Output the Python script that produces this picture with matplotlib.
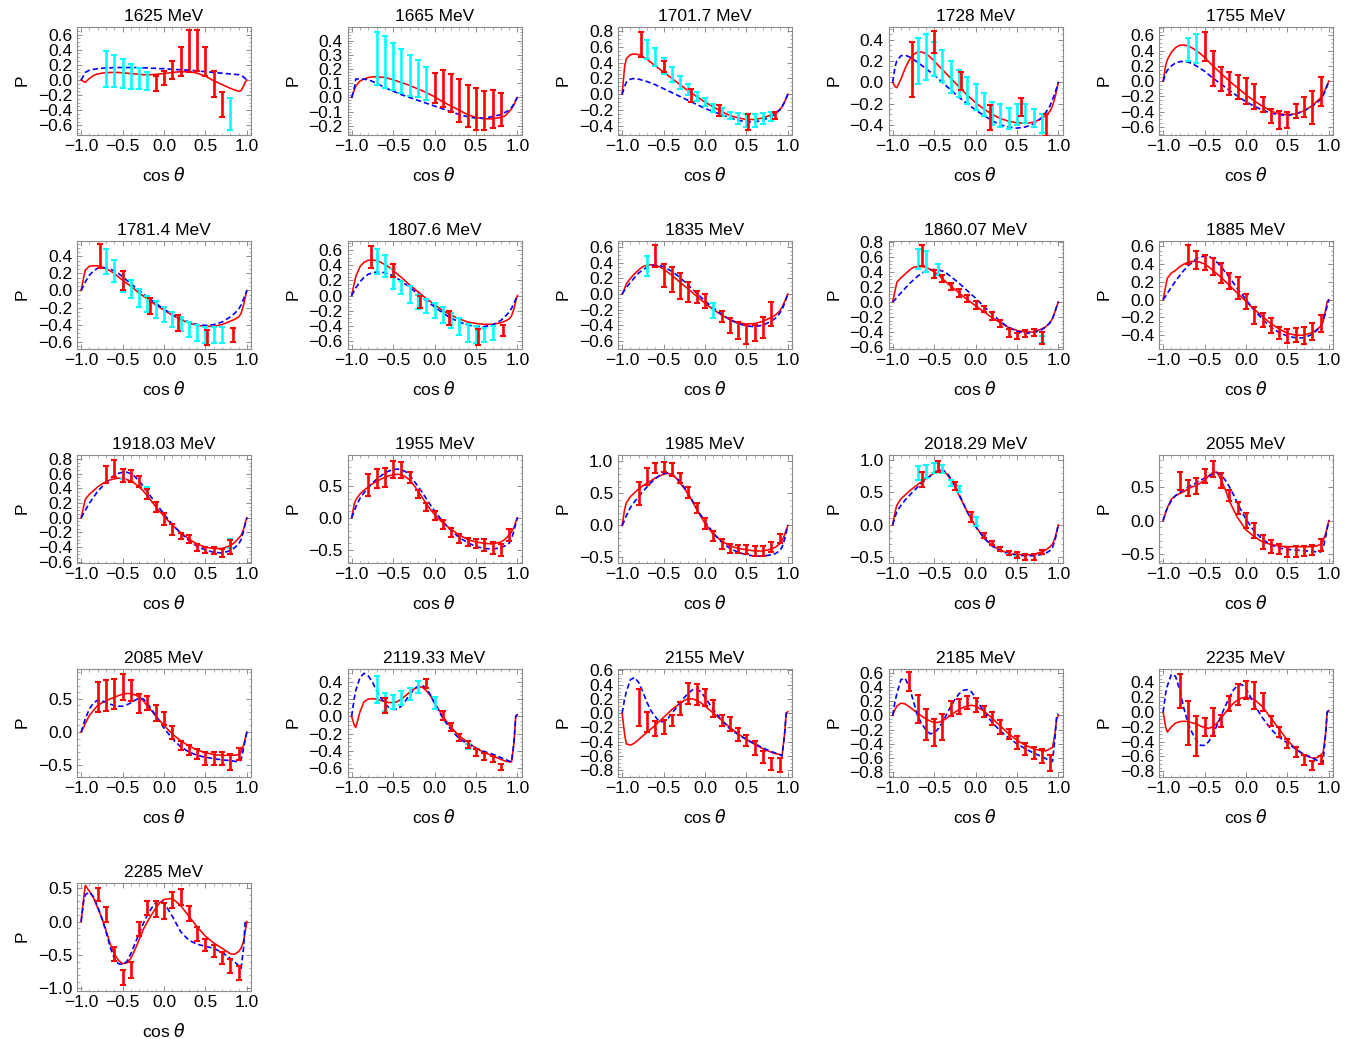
import matplotlib
matplotlib.use('Agg')
import matplotlib.pyplot as plt
from matplotlib.ticker import MultipleLocator, FuncFormatter

plt.rcParams['font.family'] = ['Liberation Sans', 'DejaVu Sans']
plt.rcParams['mathtext.fontset'] = 'dejavusans'

ENERGIES = ['1625', '1665', '1701.7', '1728', '1755',
            '1781.4', '1807.6', '1835', '1860.07', '1885',
            '1918.03', '1955', '1985', '2018.29', '2055',
            '2085', '2119.33', '2155', '2185', '2235', '2285']

XC = [-1.0, -0.97, -0.95, -0.9, -0.85, -0.8, -0.75, -0.7, -0.65, -0.6, -0.55, -0.5,
      -0.45, -0.4, -0.35, -0.3, -0.25, -0.2, -0.15, -0.1, -0.05, 0.0, 0.1, 0.2,
      0.3, 0.4, 0.5, 0.6, 0.7, 0.8, 0.85, 0.9, 0.93, 0.96, 0.98, 1.0]

RED_CURVES = [
    [0.0, -0.02, -0.03, 0.02, 0.06, 0.08, 0.09, 0.095, 0.1, 0.1, 0.1, 0.095, 0.09, 0.085, 0.08, 0.075, 0.07, 0.07, 0.07, 0.075, 0.08, 0.085, 0.1, 0.11, 0.11, 0.09, 0.05, -0.01, -0.06, -0.11, -0.13, -0.15, -0.14, -0.08, -0.03, 0.0],
    [0.0, 0.05, 0.08, 0.115, 0.13, 0.14, 0.145, 0.145, 0.143, 0.14, 0.133, 0.125, 0.115, 0.105, 0.095, 0.085, 0.072, 0.06, 0.048, 0.035, 0.02, 0.005, -0.03, -0.06, -0.09, -0.12, -0.14, -0.15, -0.15, -0.14, -0.13, -0.1, -0.08, -0.05, -0.02, 0.0],
    [0.0, 0.35, 0.45, 0.5, 0.51, 0.5, 0.47, 0.44, 0.4, 0.36, 0.32, 0.28, 0.24, 0.2, 0.16, 0.12, 0.08, 0.04, 0.005, -0.03, -0.065, -0.1, -0.16, -0.22, -0.27, -0.3, -0.32, -0.32, -0.3, -0.26, -0.23, -0.2, -0.16, -0.1, -0.05, 0.0],
    [0.0, -0.04, -0.05, 0.03, 0.13, 0.21, 0.26, 0.285, 0.285, 0.27, 0.24, 0.2, 0.16, 0.12, 0.08, 0.04, 0.0, -0.04, -0.08, -0.12, -0.155, -0.19, -0.25, -0.3, -0.34, -0.365, -0.38, -0.385, -0.375, -0.34, -0.31, -0.27, -0.22, -0.14, -0.07, 0.0],
    [0.0, 0.2, 0.28, 0.38, 0.44, 0.47, 0.475, 0.46, 0.435, 0.4, 0.36, 0.31, 0.255, 0.2, 0.15, 0.1, 0.05, 0.0, -0.045, -0.09, -0.135, -0.18, -0.26, -0.33, -0.39, -0.43, -0.44, -0.43, -0.39, -0.32, -0.27, -0.22, -0.17, -0.1, -0.05, 0.0],
    [0.0, 0.15, 0.24, 0.285, 0.29, 0.29, 0.275, 0.255, 0.23, 0.2, 0.16, 0.12, 0.085, 0.05, 0.01, -0.03, -0.065, -0.1, -0.135, -0.17, -0.2, -0.23, -0.29, -0.34, -0.38, -0.41, -0.42, -0.42, -0.4, -0.36, -0.34, -0.31, -0.27, -0.17, -0.08, 0.0],
    [0.0, 0.15, 0.25, 0.38, 0.44, 0.465, 0.47, 0.46, 0.44, 0.41, 0.375, 0.33, 0.285, 0.24, 0.19, 0.14, 0.095, 0.05, 0.005, -0.04, -0.08, -0.12, -0.2, -0.26, -0.31, -0.35, -0.37, -0.38, -0.38, -0.36, -0.34, -0.31, -0.27, -0.17, -0.08, 0.0],
    [0.0, 0.07, 0.13, 0.2, 0.26, 0.31, 0.35, 0.37, 0.375, 0.37, 0.35, 0.32, 0.28, 0.24, 0.195, 0.15, 0.105, 0.06, 0.015, -0.03, -0.075, -0.12, -0.2, -0.27, -0.33, -0.37, -0.385, -0.38, -0.35, -0.3, -0.27, -0.22, -0.17, -0.1, -0.05, 0.0],
    [0.0, 0.15, 0.26, 0.32, 0.37, 0.42, 0.46, 0.47, 0.47, 0.46, 0.435, 0.4, 0.36, 0.31, 0.26, 0.21, 0.165, 0.12, 0.075, 0.03, -0.01, -0.05, -0.13, -0.21, -0.28, -0.34, -0.38, -0.4, -0.4, -0.36, -0.33, -0.27, -0.22, -0.13, -0.06, 0.0],
    [0.0, 0.15, 0.24, 0.3, 0.33, 0.37, 0.4, 0.42, 0.43, 0.43, 0.42, 0.4, 0.37, 0.33, 0.29, 0.25, 0.205, 0.16, 0.115, 0.07, 0.025, -0.02, -0.11, -0.19, -0.27, -0.33, -0.38, -0.4, -0.4, -0.37, -0.34, -0.3, -0.25, -0.12, -0.02, 0.0],
    [0.0, 0.15, 0.25, 0.32, 0.37, 0.42, 0.46, 0.49, 0.515, 0.53, 0.54, 0.535, 0.52, 0.5, 0.465, 0.42, 0.365, 0.3, 0.225, 0.15, 0.085, 0.02, -0.1, -0.2, -0.29, -0.36, -0.4, -0.42, -0.42, -0.38, -0.34, -0.28, -0.24, -0.16, -0.07, 0.0],
    [0.0, 0.2, 0.28, 0.37, 0.43, 0.48, 0.53, 0.57, 0.6, 0.63, 0.655, 0.67, 0.68, 0.67, 0.64, 0.59, 0.51, 0.42, 0.32, 0.22, 0.13, 0.05, -0.08, -0.18, -0.27, -0.34, -0.38, -0.4, -0.41, -0.38, -0.34, -0.27, -0.22, -0.15, -0.07, 0.0],
    [0.0, 0.25, 0.35, 0.45, 0.51, 0.57, 0.62, 0.66, 0.7, 0.74, 0.77, 0.8, 0.815, 0.79, 0.74, 0.66, 0.58, 0.48, 0.37, 0.25, 0.14, 0.03, -0.14, -0.24, -0.32, -0.36, -0.38, -0.4, -0.4, -0.37, -0.34, -0.29, -0.24, -0.15, -0.07, 0.0],
    [0.0, 0.2, 0.3, 0.4, 0.46, 0.52, 0.57, 0.62, 0.665, 0.71, 0.755, 0.8, 0.835, 0.84, 0.79, 0.7, 0.59, 0.46, 0.33, 0.2, 0.08, -0.02, -0.2, -0.32, -0.4, -0.44, -0.46, -0.47, -0.46, -0.42, -0.39, -0.34, -0.3, -0.2, -0.1, 0.0],
    [0.0, 0.12, 0.19, 0.32, 0.37, 0.4, 0.43, 0.47, 0.5, 0.52, 0.56, 0.6, 0.665, 0.715, 0.72, 0.6, 0.46, 0.29, 0.16, 0.04, -0.05, -0.14, -0.24, -0.32, -0.355, -0.38, -0.39, -0.39, -0.39, -0.39, -0.38, -0.355, -0.3, -0.2, -0.1, 0.0],
    [0.0, 0.07, 0.13, 0.25, 0.33, 0.4, 0.44, 0.47, 0.5, 0.52, 0.55, 0.57, 0.58, 0.58, 0.56, 0.53, 0.47, 0.39, 0.32, 0.24, 0.17, 0.1, -0.03, -0.13, -0.21, -0.27, -0.31, -0.34, -0.35, -0.35, -0.35, -0.34, -0.3, -0.2, -0.1, 0.0],
    [0.0, -0.1, -0.13, 0.05, 0.17, 0.2, 0.205, 0.2, 0.185, 0.17, 0.16, 0.16, 0.17, 0.2, 0.24, 0.28, 0.315, 0.34, 0.34, 0.3, 0.24, 0.16, 0.0, -0.13, -0.23, -0.3, -0.37, -0.42, -0.46, -0.5, -0.52, -0.53, -0.53, -0.3, 0.0, 0.02],
    [0.0, -0.3, -0.43, -0.45, -0.42, -0.37, -0.32, -0.27, -0.22, -0.17, -0.115, -0.06, -0.005, 0.05, 0.095, 0.14, 0.18, 0.2, 0.2, 0.18, 0.145, 0.1, 0.0, -0.1, -0.2, -0.29, -0.37, -0.44, -0.5, -0.55, -0.57, -0.58, -0.6, -0.3, 0.0, 0.02],
    [0.0, 0.08, 0.13, 0.17, 0.16, 0.12, 0.075, 0.03, -0.01, -0.05, -0.08, -0.1, -0.1, -0.08, -0.045, 0.0, 0.04, 0.08, 0.11, 0.13, 0.14, 0.13, 0.06, -0.04, -0.15, -0.26, -0.35, -0.42, -0.47, -0.5, -0.5, -0.47, -0.45, -0.25, -0.05, 0.0],
    [0.0, -0.2, -0.27, -0.2, -0.15, -0.13, -0.125, -0.13, -0.145, -0.16, -0.19, -0.21, -0.22, -0.2, -0.15, -0.08, -0.01, 0.06, 0.12, 0.16, 0.19, 0.2, 0.17, 0.07, -0.08, -0.23, -0.38, -0.5, -0.58, -0.62, -0.62, -0.58, -0.55, -0.3, 0.0, 0.02],
    [0.0, 0.35, 0.54, 0.45, 0.35, 0.2, 0.05, -0.13, -0.33, -0.48, -0.58, -0.63, -0.62, -0.55, -0.42, -0.27, -0.12, 0.0, 0.1, 0.2, 0.28, 0.33, 0.345, 0.24, 0.08, -0.08, -0.22, -0.32, -0.4, -0.48, -0.49, -0.45, -0.4, -0.3, -0.15, 0.0],
]

BLUE_CURVES = [
    [0.0, 0.06, 0.1, 0.13, 0.14, 0.15, 0.155, 0.16, 0.16, 0.165, 0.165, 0.165, 0.165, 0.165, 0.165, 0.16, 0.16, 0.16, 0.155, 0.155, 0.15, 0.15, 0.14, 0.135, 0.13, 0.12, 0.11, 0.1, 0.09, 0.08, 0.075, 0.07, 0.06, 0.04, 0.02, 0.0],
    [0.0, 0.06, 0.13, 0.13, 0.128, 0.125, 0.113, 0.1, 0.085, 0.07, 0.057, 0.045, 0.032, 0.02, 0.01, 0.0, -0.01, -0.02, -0.03, -0.04, -0.05, -0.06, -0.08, -0.1, -0.12, -0.135, -0.145, -0.145, -0.135, -0.12, -0.105, -0.09, -0.07, -0.045, -0.02, 0.0],
    [0.0, 0.1, 0.15, 0.19, 0.2, 0.19, 0.175, 0.16, 0.14, 0.12, 0.095, 0.07, 0.045, 0.02, -0.005, -0.03, -0.055, -0.08, -0.105, -0.13, -0.155, -0.18, -0.22, -0.26, -0.3, -0.33, -0.35, -0.35, -0.33, -0.28, -0.25, -0.2, -0.16, -0.1, -0.05, 0.0],
    [0.0, 0.15, 0.2, 0.25, 0.255, 0.24, 0.215, 0.19, 0.16, 0.13, 0.1, 0.07, 0.035, 0.0, -0.035, -0.07, -0.105, -0.14, -0.17, -0.2, -0.23, -0.26, -0.31, -0.36, -0.4, -0.42, -0.43, -0.42, -0.39, -0.33, -0.28, -0.22, -0.16, -0.1, -0.05, 0.0],
    [0.0, 0.1, 0.14, 0.2, 0.24, 0.255, 0.26, 0.25, 0.23, 0.2, 0.165, 0.13, 0.085, 0.04, 0.0, -0.04, -0.08, -0.12, -0.16, -0.2, -0.235, -0.27, -0.33, -0.38, -0.42, -0.44, -0.45, -0.43, -0.39, -0.33, -0.29, -0.24, -0.19, -0.12, -0.06, 0.0],
    [0.0, 0.06, 0.1, 0.18, 0.23, 0.26, 0.27, 0.265, 0.25, 0.23, 0.2, 0.16, 0.12, 0.08, 0.04, 0.0, -0.04, -0.08, -0.115, -0.15, -0.185, -0.22, -0.28, -0.33, -0.37, -0.4, -0.41, -0.4, -0.37, -0.31, -0.27, -0.22, -0.17, -0.1, -0.05, 0.0],
    [0.0, 0.06, 0.1, 0.18, 0.24, 0.28, 0.3, 0.31, 0.31, 0.3, 0.285, 0.26, 0.225, 0.19, 0.15, 0.11, 0.065, 0.02, -0.025, -0.07, -0.11, -0.15, -0.23, -0.3, -0.35, -0.39, -0.41, -0.41, -0.39, -0.33, -0.28, -0.22, -0.17, -0.1, -0.05, 0.0],
    [0.0, 0.05, 0.08, 0.15, 0.21, 0.27, 0.31, 0.34, 0.36, 0.37, 0.365, 0.35, 0.32, 0.29, 0.25, 0.21, 0.16, 0.11, 0.06, 0.01, -0.04, -0.09, -0.18, -0.26, -0.33, -0.38, -0.41, -0.42, -0.4, -0.35, -0.31, -0.25, -0.2, -0.12, -0.06, 0.0],
    [0.0, 0.03, 0.06, 0.12, 0.18, 0.24, 0.29, 0.34, 0.38, 0.41, 0.425, 0.43, 0.425, 0.41, 0.38, 0.34, 0.295, 0.25, 0.2, 0.15, 0.1, 0.05, -0.06, -0.16, -0.26, -0.34, -0.39, -0.42, -0.41, -0.37, -0.33, -0.28, -0.22, -0.13, -0.06, 0.0],
    [0.0, 0.04, 0.07, 0.14, 0.21, 0.27, 0.33, 0.38, 0.42, 0.46, 0.48, 0.49, 0.49, 0.46, 0.42, 0.37, 0.31, 0.25, 0.185, 0.12, 0.06, 0.0, -0.12, -0.22, -0.31, -0.37, -0.41, -0.43, -0.43, -0.39, -0.35, -0.3, -0.24, -0.14, -0.07, 0.0],
    [0.0, 0.06, 0.1, 0.2, 0.28, 0.36, 0.42, 0.48, 0.53, 0.58, 0.605, 0.62, 0.62, 0.6, 0.56, 0.5, 0.43, 0.35, 0.275, 0.2, 0.125, 0.05, -0.09, -0.21, -0.31, -0.39, -0.44, -0.47, -0.48, -0.45, -0.41, -0.36, -0.3, -0.18, -0.09, 0.0],
    [0.0, 0.1, 0.17, 0.3, 0.39, 0.47, 0.54, 0.6, 0.65, 0.7, 0.73, 0.75, 0.76, 0.75, 0.72, 0.66, 0.58, 0.49, 0.4, 0.3, 0.2, 0.11, -0.06, -0.2, -0.31, -0.39, -0.45, -0.48, -0.49, -0.47, -0.44, -0.4, -0.33, -0.2, -0.1, 0.0],
    [0.0, 0.08, 0.15, 0.28, 0.37, 0.45, 0.53, 0.6, 0.67, 0.73, 0.78, 0.81, 0.82, 0.8, 0.75, 0.68, 0.59, 0.49, 0.38, 0.27, 0.16, 0.06, -0.12, -0.26, -0.36, -0.42, -0.46, -0.48, -0.48, -0.46, -0.44, -0.4, -0.34, -0.22, -0.11, 0.0],
    [0.0, 0.12, 0.2, 0.3, 0.38, 0.45, 0.52, 0.58, 0.64, 0.7, 0.75, 0.8, 0.84, 0.85, 0.81, 0.72, 0.61, 0.48, 0.34, 0.2, 0.08, -0.03, -0.2, -0.33, -0.41, -0.45, -0.47, -0.48, -0.48, -0.46, -0.44, -0.4, -0.35, -0.24, -0.12, 0.0],
    [0.0, 0.12, 0.18, 0.3, 0.37, 0.42, 0.46, 0.5, 0.53, 0.56, 0.6, 0.63, 0.66, 0.69, 0.71, 0.68, 0.6, 0.5, 0.38, 0.25, 0.13, 0.02, -0.16, -0.28, -0.36, -0.41, -0.43, -0.44, -0.45, -0.46, -0.465, -0.47, -0.42, -0.25, -0.12, 0.0],
    [0.0, 0.12, 0.2, 0.35, 0.44, 0.48, 0.47, 0.45, 0.42, 0.4, 0.39, 0.39, 0.41, 0.44, 0.48, 0.51, 0.5, 0.43, 0.34, 0.25, 0.15, 0.06, -0.1, -0.22, -0.3, -0.35, -0.38, -0.4, -0.42, -0.43, -0.44, -0.45, -0.42, -0.25, -0.12, 0.0],
    [0.0, 0.2, 0.3, 0.45, 0.5, 0.47, 0.4, 0.3, 0.22, 0.15, 0.1, 0.08, 0.08, 0.12, 0.18, 0.25, 0.31, 0.35, 0.36, 0.33, 0.25, 0.15, -0.02, -0.16, -0.26, -0.32, -0.37, -0.41, -0.44, -0.48, -0.5, -0.52, -0.53, -0.3, 0.0, 0.02],
    [0.0, 0.2, 0.3, 0.47, 0.5, 0.43, 0.3, 0.15, 0.03, -0.05, -0.12, -0.12, -0.08, 0.0, 0.07, 0.15, 0.22, 0.28, 0.33, 0.34, 0.3, 0.22, 0.05, -0.1, -0.22, -0.3, -0.37, -0.43, -0.49, -0.54, -0.56, -0.58, -0.6, -0.3, 0.0, 0.02],
    [0.0, 0.2, 0.3, 0.5, 0.52, 0.4, 0.2, 0.0, -0.12, -0.2, -0.26, -0.25, -0.19, -0.1, 0.01, 0.12, 0.22, 0.3, 0.35, 0.36, 0.33, 0.25, 0.05, -0.1, -0.22, -0.32, -0.4, -0.47, -0.53, -0.58, -0.61, -0.64, -0.65, -0.3, 0.0, 0.02],
    [0.0, 0.25, 0.35, 0.51, 0.48, 0.3, 0.05, -0.15, -0.28, -0.38, -0.45, -0.45, -0.4, -0.3, -0.18, -0.05, 0.08, 0.2, 0.3, 0.36, 0.37, 0.32, 0.1, -0.08, -0.23, -0.34, -0.42, -0.5, -0.57, -0.62, -0.65, -0.67, -0.68, -0.3, 0.0, 0.02],
    [0.0, 0.3, 0.4, 0.44, 0.37, 0.22, 0.05, -0.15, -0.38, -0.55, -0.63, -0.64, -0.6, -0.48, -0.33, -0.18, -0.03, 0.1, 0.2, 0.28, 0.31, 0.28, 0.08, -0.15, -0.28, -0.34, -0.37, -0.4, -0.46, -0.55, -0.6, -0.66, -0.7, -0.4, 0.0, 0.02],
]

# cyan data points (x, value, error)
CYAN_X = [
    [-0.7, -0.6, -0.5, -0.4, -0.3, -0.2, 0.8],
    [-0.7, -0.6, -0.5, -0.4, -0.3, -0.2, -0.1],
    [-0.7, -0.6, -0.5, -0.4, -0.3, -0.2, -0.1, 0.0, 0.1, 0.2, 0.3, 0.4, 0.5, 0.6, 0.7, 0.8],
    [-0.7, -0.6, -0.5, -0.4, -0.3, -0.2, -0.1, 0.0, 0.1, 0.2, 0.3, 0.4, 0.5, 0.6, 0.7, 0.8],
    [-0.7, -0.6],
    [-0.7, -0.6, -0.5, -0.4, -0.3, -0.2, -0.1, 0.0, 0.1, 0.2, 0.3, 0.4, 0.5, 0.6, 0.7],
    [-0.7, -0.6, -0.5, -0.4, -0.3, -0.2, -0.1, 0.0, 0.1, 0.2, 0.3, 0.4, 0.5, 0.6, 0.7],
    [-0.7, 0.1],
    [-0.7, -0.6, -0.45, 0.8],
    [],
    [-0.5, -0.2, 0.8],
    [],
    [],
    [-0.7, -0.6, -0.5, -0.4, -0.3, -0.2, 0.0, 0.4, 0.5],
    [],
    [],
    [-0.7, -0.6, -0.5, -0.4, -0.3, -0.2, 0.0, 0.4],
    [],
    [],
    [],
    [],
]
CYAN_Y = [
    [0.145, 0.12, 0.09, 0.05, 0.02, -0.01, -0.45],
    [0.275, 0.25, 0.215, 0.185, 0.155, 0.13, 0.1],
    [0.56, 0.47, 0.36, 0.25, 0.15, 0.06, -0.03, -0.1, -0.17, -0.22, -0.27, -0.31, -0.33, -0.33, -0.31, -0.28],
    [0.2, 0.235, 0.22, 0.15, 0.05, -0.01, -0.075, -0.14, -0.21, -0.29, -0.31, -0.34, -0.3, -0.29, -0.335, -0.39],
    [0.41, 0.43],
    [0.34, 0.23, 0.105, 0.015, -0.085, -0.155, -0.22, -0.28, -0.34, -0.39, -0.455, -0.5, -0.525, -0.525, -0.52],
    [0.445, 0.39, 0.22, 0.105, 0.01, -0.085, -0.14, -0.2, -0.255, -0.33, -0.41, -0.49, -0.515, -0.52, -0.495],
    [0.36, -0.21],
    [0.575, 0.54, 0.43, -0.5],
    [],
    [0.6, 0.34, -0.35],
    [],
    [],
    [0.8, 0.83, 0.88, 0.86, 0.65, 0.55, 0.05, -0.43, -0.46],
    [],
    [],
    [0.31, 0.17, 0.165, 0.21, 0.26, 0.34, 0.155, -0.35],
    [],
    [],
    [],
    [],
]
CYAN_E = [
    [0.235, 0.21, 0.19, 0.165, 0.14, 0.12, 0.21],
    [0.185, 0.18, 0.165, 0.155, 0.145, 0.13, 0.115],
    [0.12, 0.11, 0.1, 0.09, 0.08, 0.07, 0.06, 0.05, 0.05, 0.05, 0.05, 0.07, 0.08, 0.08, 0.07, 0.06],
    [0.22, 0.215, 0.16, 0.15, 0.15, 0.13, 0.125, 0.12, 0.11, 0.11, 0.11, 0.1, 0.1, 0.09, 0.085, 0.09],
    [0.15, 0.19],
    [0.15, 0.13, 0.125, 0.105, 0.105, 0.095, 0.1, 0.09, 0.09, 0.085, 0.085, 0.09, 0.095, 0.095, 0.09],
    [0.165, 0.15, 0.13, 0.085, 0.11, 0.095, 0.09, 0.1, 0.105, 0.1, 0.11, 0.12, 0.115, 0.09, 0.095],
    [0.13, 0.1],
    [0.135, 0.14, 0.07, 0.05],
    [],
    [0.07, 0.08, 0.06],
    [],
    [],
    [0.11, 0.1, 0.08, 0.06, 0.05, 0.05, 0.07, 0.03, 0.03],
    [],
    [],
    [0.155, 0.105, 0.085, 0.08, 0.07, 0.07, 0.075, 0.03],
    [],
    [],
    [],
    [],
]

GRID_A = [-0.8, -0.7, -0.6, -0.5, -0.4, -0.3, -0.2, -0.1, 0.0, 0.1, 0.2, 0.3, 0.4, 0.5, 0.6, 0.7, 0.8, 0.9]

RED_X = [
    [-0.1, 0.0, 0.1, 0.2, 0.3, 0.4, 0.5, 0.6, 0.7],
    [0.0, 0.1, 0.2, 0.3, 0.4, 0.5, 0.6, 0.7, 0.8],
    [-0.77, -0.5, -0.17, 0.17, 0.52, 0.84],
    [-0.77, -0.5, -0.17, 0.17, 0.55, 0.85],
    [-0.5, -0.4, -0.3, -0.2, -0.1, 0.0, 0.1, 0.2, 0.3, 0.4, 0.5, 0.6, 0.7, 0.8, 0.9],
    [-0.77, -0.5, -0.17, 0.17, 0.52, 0.83],
    [-0.77, -0.5, -0.17, 0.17, 0.52, 0.83],
    [-0.6, -0.5, -0.4, -0.3, -0.2, -0.1, 0.0, 0.2, 0.3, 0.4, 0.5, 0.6, 0.7, 0.8],
    [-0.65, -0.5, -0.4, -0.3, -0.2, -0.1, 0.0, 0.1, 0.2, 0.3, 0.4, 0.5, 0.6, 0.7, 0.8],
    [-0.7, -0.6, -0.5, -0.4, -0.3, -0.2, -0.1, 0.0, 0.1, 0.2, 0.3, 0.4, 0.5, 0.6, 0.7, 0.8, 0.9],
    [-0.7, -0.6, -0.5, -0.4, -0.3, -0.2, -0.1, 0.0, 0.1, 0.2, 0.3, 0.4, 0.5, 0.6, 0.7, 0.8],
    GRID_A,
    GRID_A,
    [-0.65, -0.45, -0.25, -0.05, 0.1, 0.2, 0.3, 0.4, 0.5, 0.6, 0.7, 0.8],
    GRID_A,
    GRID_A,
    [-0.6, -0.1, 0.1, 0.2, 0.3, 0.4, 0.5, 0.6, 0.7, 0.8],
    GRID_A,
    GRID_A,
    GRID_A,
    GRID_A,
]
RED_Y = [
    [-0.05, 0.03, 0.13, 0.245, 0.38, 0.39, 0.24, -0.05, -0.32],
    [0.065, 0.06, 0.03, -0.02, -0.06, -0.08, -0.09, -0.08, -0.085],
    [0.63, 0.35, -0.015, -0.21, -0.35, -0.27],
    [0.12, 0.38, 0.015, -0.33, -0.23, -0.4],
    [0.455, 0.16, 0.025, -0.03, -0.08, -0.13, -0.2, -0.31, -0.46, -0.51, -0.51, -0.39, -0.34, -0.345, -0.14],
    [0.405, 0.12, -0.18, -0.38, -0.55, -0.52],
    [0.505, 0.33, -0.09, -0.3, -0.55, -0.46],
    [0.485, 0.24, 0.18, 0.1, 0.03, -0.035, -0.09, -0.29, -0.4, -0.47, -0.52, -0.505, -0.43, -0.255],
    [0.615, 0.37, 0.31, 0.205, 0.12, 0.045, -0.04, -0.095, -0.19, -0.29, -0.415, -0.46, -0.42, -0.41, -0.48],
    [0.51, 0.445, 0.42, 0.375, 0.3, 0.21, 0.13, -0.02, -0.175, -0.23, -0.29, -0.375, -0.41, -0.4, -0.4, -0.36, -0.27],
    [0.595, 0.67, 0.575, 0.57, 0.495, 0.325, 0.15, -0.02, -0.16, -0.245, -0.295, -0.405, -0.44, -0.45, -0.475, -0.4],
    [0.515, 0.615, 0.63, 0.75, 0.745, 0.63, 0.37, 0.17, 0.035, -0.11, -0.23, -0.33, -0.375, -0.4, -0.425, -0.47, -0.51, -0.265],
    [0.505, 0.76, 0.9, 0.915, 0.875, 0.74, 0.515, 0.27, 0.03, -0.165, -0.29, -0.36, -0.37, -0.38, -0.4, -0.4, -0.345, -0.205],
    [0.7, 0.9, 0.6, 0.12, -0.17, -0.28, -0.37, -0.44, -0.47, -0.5, -0.5, -0.42],
    [0.585, 0.49, 0.52, 0.66, 0.77, 0.595, 0.37, 0.185, 0.0, -0.15, -0.32, -0.385, -0.43, -0.465, -0.46, -0.455, -0.44, -0.365],
    [0.53, 0.55, 0.57, 0.68, 0.63, 0.43, 0.44, 0.28, 0.2, -0.01, -0.205, -0.27, -0.325, -0.4, -0.4, -0.4, -0.45, -0.33],
    [0.125, 0.38, 0.01, -0.125, -0.25, -0.325, -0.42, -0.465, -0.5, -0.595],
    [0.08, -0.12, -0.215, -0.19, -0.1, 0.07, 0.275, 0.265, 0.22, 0.07, -0.1, -0.155, -0.3, -0.385, -0.49, -0.615, -0.715, -0.725],
    [0.475, 0.09, -0.13, -0.245, -0.165, 0.095, 0.12, 0.18, 0.14, 0.055, -0.045, -0.17, -0.265, -0.385, -0.47, -0.53, -0.575, -0.67],
    [0.28, -0.15, -0.32, -0.2, -0.14, -0.12, 0.12, 0.24, 0.3, 0.22, 0.13, -0.12, -0.27, -0.42, -0.54, -0.65, -0.72, -0.65],
    [0.4, 0.11, -0.48, -0.84, -0.72, -0.11, 0.2, 0.18, 0.155, 0.32, 0.37, 0.12, -0.18, -0.35, -0.44, -0.54, -0.665, -0.77],
]
RED_E = [
    [0.1, 0.09, 0.12, 0.19, 0.28, 0.27, 0.19, 0.175, 0.165],
    [0.105, 0.13, 0.135, 0.15, 0.15, 0.15, 0.135, 0.135, 0.115],
    [0.16, 0.075, 0.085, 0.07, 0.1, 0.05],
    [0.26, 0.1, 0.085, 0.12, 0.085, 0.1],
    [0.195, 0.23, 0.155, 0.15, 0.16, 0.17, 0.16, 0.1, 0.09, 0.115, 0.1, 0.09, 0.13, 0.215, 0.19],
    [0.145, 0.11, 0.09, 0.09, 0.09, 0.085],
    [0.145, 0.09, 0.08, 0.095, 0.11, 0.07],
    [0.145, 0.15, 0.16, 0.165, 0.13, 0.075, 0.095, 0.065, 0.095, 0.105, 0.12, 0.105, 0.135, 0.155],
    [0.14, 0.05, 0.05, 0.05, 0.05, 0.045, 0.05, 0.045, 0.055, 0.05, 0.055, 0.04, 0.045, 0.045, 0.075],
    [0.11, 0.1, 0.085, 0.095, 0.115, 0.095, 0.12, 0.08, 0.095, 0.075, 0.08, 0.07, 0.08, 0.08, 0.095, 0.095, 0.095],
    [0.115, 0.12, 0.09, 0.08, 0.08, 0.065, 0.07, 0.085, 0.075, 0.04, 0.055, 0.05, 0.04, 0.05, 0.055, 0.09],
    [0.175, 0.145, 0.15, 0.13, 0.12, 0.085, 0.06, 0.065, 0.075, 0.07, 0.065, 0.07, 0.065, 0.075, 0.09, 0.09, 0.095, 0.095],
    [0.18, 0.13, 0.08, 0.078, 0.1, 0.08, 0.085, 0.08, 0.09, 0.078, 0.08, 0.065, 0.06, 0.07, 0.08, 0.08, 0.078, 0.065],
    [0.12, 0.09, 0.06, 0.08, 0.04, 0.03, 0.03, 0.03, 0.04, 0.04, 0.04, 0.03],
    [0.13, 0.12, 0.12, 0.105, 0.115, 0.11, 0.085, 0.085, 0.11, 0.11, 0.1, 0.095, 0.075, 0.075, 0.08, 0.075, 0.08, 0.085],
    [0.23, 0.23, 0.23, 0.2, 0.16, 0.14, 0.11, 0.12, 0.1, 0.1, 0.07, 0.073, 0.075, 0.1, 0.1, 0.093, 0.117, 0.093],
    [0.085, 0.05, 0.05, 0.05, 0.04, 0.04, 0.04, 0.04, 0.035, 0.035],
    [0.26, 0.14, 0.105, 0.1, 0.08, 0.09, 0.145, 0.145, 0.12, 0.12, 0.08, 0.1, 0.095, 0.075, 0.095, 0.085, 0.085, 0.095],
    [0.13, 0.195, 0.215, 0.19, 0.18, 0.105, 0.105, 0.095, 0.1, 0.075, 0.085, 0.1, 0.075, 0.095, 0.085, 0.085, 0.095, 0.115],
    [0.23, 0.3, 0.27, 0.12, 0.19, 0.08, 0.1, 0.14, 0.12, 0.18, 0.12, 0.07, 0.07, 0.06, 0.07, 0.07, 0.06, 0.05],
    [0.1, 0.11, 0.105, 0.11, 0.12, 0.11, 0.1, 0.12, 0.12, 0.12, 0.12, 0.11, 0.105, 0.09, 0.09, 0.09, 0.1, 0.105],
]

Y_RANGES = [(-0.72, 0.70), (-0.26, 0.495), (-0.51, 0.85), (-0.49, 0.52), (-0.70, 0.71),
            (-0.68, 0.58), (-0.70, 0.72), (-0.70, 0.68), (-0.62, 0.81), (-0.55, 0.66),
            (-0.61, 0.855), (-0.70, 0.98), (-0.58, 1.10), (-0.585, 1.08), (-0.625, 0.975),
            (-0.67, 0.95), (-0.70, 0.55), (-0.89, 0.62), (-0.86, 0.65), (-0.87, 0.58),
            (-1.03, 0.575)]
Y_STEPS = [0.2, 0.1, 0.2, 0.2, 0.2, 0.2, 0.2, 0.2, 0.2, 0.2,
           0.2, 0.5, 0.5, 0.5, 0.5, 0.5, 0.2, 0.2, 0.2, 0.2, 0.5]
X_TICKS = [-1.0, -0.5, 0.0, 0.5, 1.0]

W, H = 1370, 1039
fig = plt.figure(figsize=(W / 100, H / 100), dpi=100)

FRAME = '#8c8c8c'
FS = 12.5


def fmt(v, pos):
    if abs(v) < 1e-9:
        v = 0.0
    return ('%.1f' % v).replace('-', '\u2212')


for i, en in enumerate(ENERGIES):
    r, c = divmod(i, 5)
    left = 77 + 270.5 * c
    top = 27 + 214 * r
    ax = fig.add_axes([left / W, 1 - (top + 107.5) / H, 174 / W, 107.5 / H])

    assert len(RED_CURVES[i]) == len(XC), ('red', i)
    assert len(BLUE_CURVES[i]) == len(XC), ('blue', i)
    assert len(CYAN_X[i]) == len(CYAN_Y[i]) == len(CYAN_E[i]), ('cyan', i)
    assert len(RED_X[i]) == len(RED_Y[i]) == len(RED_E[i]), ('redpts', i)

    ax.plot(XC, RED_CURVES[i], color='#ff0000', lw=1.15, zorder=2)
    ax.plot(XC, BLUE_CURVES[i], color='#0000ff', lw=1.2, dashes=(3.2, 1.8), zorder=2)
    if CYAN_X[i]:
        ax.errorbar(CYAN_X[i], CYAN_Y[i], yerr=CYAN_E[i], fmt='none', ecolor='#00ffff',
                    elinewidth=1.9, capsize=2.2, capthick=1.5, zorder=3)
    ax.errorbar(RED_X[i], RED_Y[i], yerr=RED_E[i], fmt='none', ecolor='#ff0000',
                elinewidth=1.9, capsize=2.2, capthick=1.5, zorder=4)

    ax.set_xlim(-1.05, 1.05)
    ax.set_ylim(*Y_RANGES[i])
    ax.set_xticks(X_TICKS)
    ax.xaxis.set_minor_locator(MultipleLocator(0.1))
    step = Y_STEPS[i]
    ax.yaxis.set_major_locator(MultipleLocator(step))
    ax.yaxis.set_minor_locator(MultipleLocator(step / 4 if step == 0.2 else step / 5))
    ax.xaxis.set_major_formatter(FuncFormatter(fmt))
    ax.yaxis.set_major_formatter(FuncFormatter(fmt))

    for s in ax.spines.values():
        s.set_color(FRAME)
        s.set_linewidth(0.8)
    ax.tick_params(which='both', direction='in', top=True, right=True, color=FRAME,
                   labelsize=FS, labelcolor='black')
    ax.tick_params(which='major', length=3.5, width=0.7, pad=3.5)
    ax.tick_params(which='minor', length=1.8, width=0.5)

    ax.set_title(en + ' MeV', fontsize=FS, pad=4)
    ax.set_xlabel(r'cos $\theta$', fontsize=FS)
    ax.xaxis.set_label_coords(0.5, -0.29)
    ax.set_ylabel('P', fontsize=FS)
    ax.yaxis.set_label_coords(-0.27, 0.5)

fig.savefig('out.png', dpi=100)
